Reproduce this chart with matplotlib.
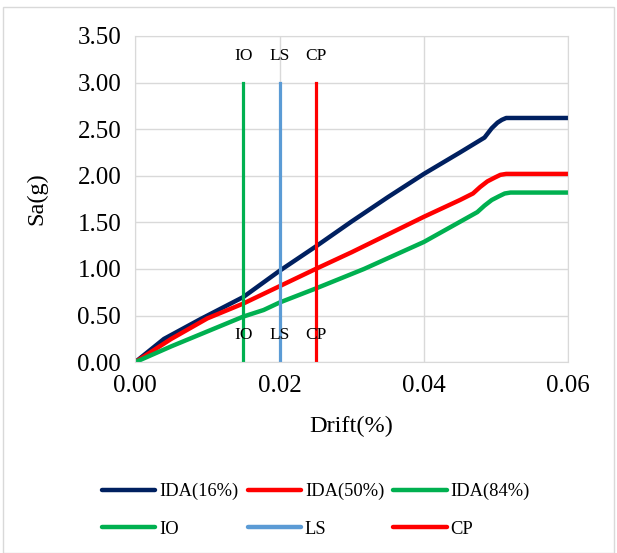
import matplotlib
matplotlib.use('Agg')
import matplotlib.pyplot as plt
from matplotlib.patches import Rectangle

plt.rcParams['font.family'] = ['Liberation Serif', 'DejaVu Serif']

# IDA curves (drift, Sa)
drift_16 = [0.0, 0.004, 0.009, 0.015, 0.020, 0.025, 0.030, 0.035, 0.040, 0.045, 0.0484, 0.0494, 0.0502, 0.0508, 0.0514, 0.060]
sa_16 = [0.0, 0.25, 0.46, 0.70, 0.98, 1.24, 1.51, 1.77, 2.02, 2.25, 2.41, 2.51, 2.57, 2.60, 2.62, 2.62]
drift_50 = [0.0, 0.005, 0.010, 0.015, 0.020, 0.025, 0.030, 0.035, 0.040, 0.045, 0.0468, 0.0478, 0.0488, 0.0498, 0.0506, 0.0514, 0.060]
sa_50 = [0.0, 0.25, 0.47, 0.63, 0.815, 1.0, 1.18, 1.37, 1.56, 1.74, 1.81, 1.88, 1.94, 1.98, 2.01, 2.02, 2.02]
drift_84 = [0.0, 0.005, 0.010, 0.015, 0.0178, 0.020, 0.025, 0.0317, 0.040, 0.0474, 0.0484, 0.0494, 0.0504, 0.0512, 0.0520, 0.060]
sa_84 = [0.0, 0.17, 0.33, 0.49, 0.56, 0.64, 0.79, 1.00, 1.29, 1.61, 1.68, 1.74, 1.78, 1.81, 1.82, 1.82]

# performance levels
limit_names = ['IO', 'LS', 'CP']
limit_drift = [0.015, 0.020, 0.025]
limit_top = 3.0
limit_colors = ['#00b050', '#5b9bd5', '#ff0000']

fig = plt.figure(figsize=(6.17, 5.53), dpi=100)
fig.patches.append(Rectangle((0.005, 0.0), 0.99, 0.987, transform=fig.transFigure,
                             fill=False, edgecolor='#d9d9d9', linewidth=1.0))
ax = fig.add_axes([0.219, 0.345, 0.702, 0.590])

ida = []
ida.append(ax.plot(drift_16, sa_16, color='#002060', lw=3.2, label='IDA(16%)')[0])
ida.append(ax.plot(drift_50, sa_50, color='#ff0000', lw=3.2, label='IDA(50%)')[0])
ida.append(ax.plot(drift_84, sa_84, color='#00b050', lw=3.2, label='IDA(84%)')[0])
lims = []
for name, d, c in zip(limit_names, limit_drift, limit_colors):
    lims.append(ax.plot([d, d], [0, limit_top], color=c, lw=2.3, label=name)[0])
    ax.text(d, 3.28, name, ha='center', va='center', fontsize=12.5)
    ax.text(d, 0.29, name, ha='center', va='center', fontsize=12.5)

ax.set_xlim(0, 0.06)
ax.set_ylim(0, 3.5)
ax.set_xticks([0, 0.02, 0.04, 0.06])
ax.set_xticklabels(['0.00', '0.02', '0.04', '0.06'])
ax.set_yticks([i * 0.5 for i in range(8)])
ax.set_yticklabels(['%.2f' % (i * 0.5) for i in range(8)])
ax.tick_params(labelsize=18, length=0)
ax.tick_params(axis='x', pad=9)
ax.tick_params(axis='y', pad=10)
ax.grid(True, color='#d9d9d9', lw=1.0)
ax.set_axisbelow(True)
for s in ax.spines.values():
    s.set_color('#d9d9d9')
ax.set_xlabel('Drift(%)', fontsize=17.5, labelpad=14)
ax.set_ylabel('Sa(g)', fontsize=17.5, labelpad=22)

# legend filled column by column -> interleave so rows read IDA / limits
handles = []
for a, b in zip(ida, lims):
    handles += [a, b]
leg = fig.legend(handles, [h.get_label() for h in handles], loc='upper left',
                 bbox_to_anchor=(0.165, 0.127), ncol=3, frameon=False, fontsize=13.3,
                 handlelength=2.9, handletextpad=0.2, columnspacing=0.5,
                 labelspacing=1.12, borderpad=0, borderaxespad=0)
for h in leg.legend_handles:
    h.set_linewidth(3.2)
    h.set_solid_capstyle('round')

fig.savefig('out.png', dpi=100)
